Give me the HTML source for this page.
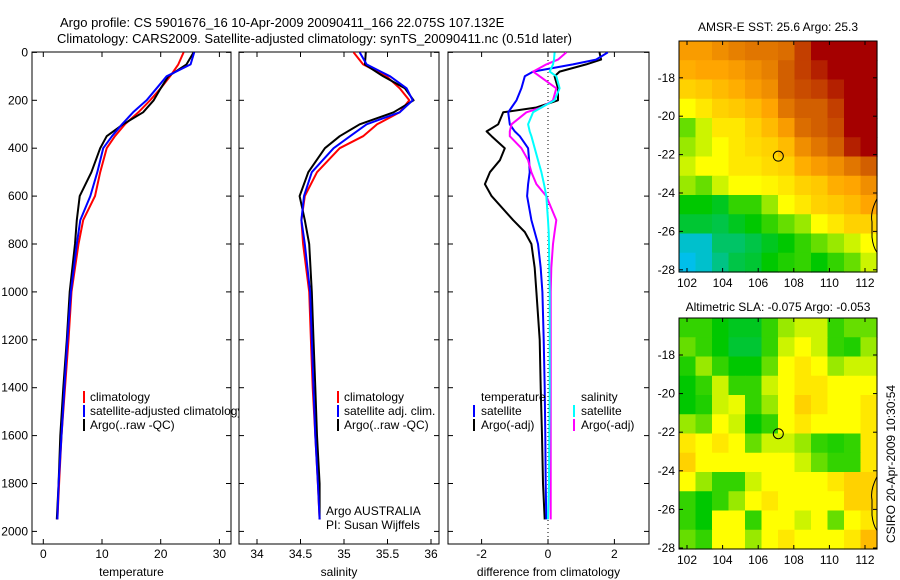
<!DOCTYPE html>
<html><head><meta charset="utf-8"><style>
html,body{margin:0;padding:0;background:#fff;}
svg{display:block;font-family:"Liberation Sans",sans-serif;}
</style></head><body>
<svg id="c" width="900" height="580" viewBox="0 0 900 580" xmlns="http://www.w3.org/2000/svg">
<defs>
<clipPath id="cp1"><rect x="32" y="52" width="207" height="492"/></clipPath>
<clipPath id="cp3"><rect x="448" y="52" width="201" height="492"/></clipPath>
</defs>
<text x="60" y="27" font-size="13">Argo profile: CS 5901676_16 10-Apr-2009 20090411_166 22.075S 107.132E</text>
<text x="57" y="43" font-size="13">Climatology: CARS2009. Satellite-adjusted climatology: synTS_20090411.nc (0.51d later)</text>
<g id="g"></g>
</svg>
<script>
// ---- data ----
const depthTS = [0,50,100,150,200,250,300,350,400,500,600,700,800,1000,1200,1400,1600,1800,1950];
const tempClim = [23.9,23,21.6,20,18.2,16.2,13.9,12.2,10.8,9.7,8.8,6.8,6,4.8,4.3,3.7,3.1,2.7,2.4];
const tempSat = [25.7,25.1,21,19.3,17.6,15.3,13.4,11.7,10.2,9.2,8,6.3,5.7,4.7,4.1,3.6,3.1,2.6,2.4];
const tempArgo = [25.6,24.4,21.3,20,18.8,17,13.6,10.8,9.7,8.2,6.2,5.7,5.4,4.5,4,3.4,2.9,2.6,2.3];
const salClim = [35.11,35.22,35.49,35.64,35.75,35.64,35.38,35.22,34.95,34.69,34.55,34.51,34.53,34.6,34.62,34.64,34.67,34.7,34.72];
const salSat = [35.18,35.26,35.53,35.72,35.79,35.64,35.26,35.07,34.88,34.63,34.54,34.51,34.55,34.61,34.63,34.65,34.67,34.7,34.72];
const salArgo = [35.25,35.24,35.45,35.7,35.8,35.57,35.18,34.95,34.78,34.59,34.49,34.55,34.6,34.63,34.65,34.67,34.69,34.72,34.72];
const depthD = [0,30,50,80,100,150,200,230,250,300,330,350,400,450,500,550,600,700,750,800,900,1000,1200,1400,1600,1800,1950];
const dTempSat = [1.8,1.45,0.75,-0.45,-0.7,-0.8,-0.95,-1.1,-1.2,-1.15,-1.0,-0.85,-0.6,-0.57,-0.55,-0.6,-0.63,-0.5,-0.4,-0.3,-0.22,-0.17,-0.13,-0.1,-0.08,-0.07,-0.05];
const dTempArgo = [1.55,1.6,1.15,0.35,0.2,0.3,0.3,-0.35,-1.35,-1.5,-1.85,-1.7,-1.3,-1.45,-1.75,-1.9,-1.7,-1.05,-0.7,-0.5,-0.4,-0.35,-0.25,-0.22,-0.18,-0.15,-0.1];
const dSalSat = [0.2,0.18,0.15,0.05,0.25,0.35,0.2,-0.2,-0.45,-0.6,-0.55,-0.5,-0.4,-0.3,-0.2,-0.12,-0.05,0,0.02,0.03,0.04,0.05,0.05,0.05,0.04,0.03,0];
const dSalArgo = [0.55,0.3,-0.05,-0.45,-0.25,0.25,0.15,-0.2,-0.65,-1.1,-1.15,-1.15,-0.8,-0.6,-0.5,-0.35,-0.05,0.25,0.2,0.15,0.1,0.08,0.08,0.08,0.08,0.08,0.08];
const depthTicks = [0,200,400,600,800,1000,1200,1400,1600,1800,2000];
const tempTicks = [0,10,20,30];
const salTicks = [34,34.5,35,35.5,36];
const diffTicks = [-2,0,2];
const lonTicks = [102,104,106,108,110,112];
const latTicks = [-18,-20,-22,-24,-26,-28];
const sstGrid = [
[0.72,0.72,0.75,0.78,0.8,0.8,0.82,0.9,1,1,1,1],
[0.68,0.7,0.7,0.72,0.75,0.78,0.85,0.9,0.95,1,1,1],
[0.6,0.62,0.65,0.68,0.72,0.75,0.85,0.88,0.9,0.95,1,1],
[0.5,0.55,0.6,0.62,0.65,0.7,0.8,0.85,0.85,0.9,1,1],
[0.35,0.45,0.55,0.55,0.6,0.65,0.72,0.82,0.85,0.88,1,1],
[0.4,0.45,0.5,0.55,0.58,0.6,0.65,0.75,0.8,0.85,0.95,1],
[0.45,0.5,0.5,0.55,0.55,0.58,0.6,0.68,0.72,0.75,0.8,0.85],
[0.4,0.35,0.45,0.5,0.5,0.52,0.55,0.6,0.62,0.68,0.7,0.75],
[0.25,0.25,0.22,0.3,0.3,0.4,0.5,0.55,0.6,0.62,0.65,0.7],
[0.2,0.2,0.18,0.22,0.25,0.3,0.35,0.4,0.5,0.55,0.6,0.6],
[0.05,0.05,0.15,0.15,0.18,0.22,0.25,0.3,0.35,0.4,0.45,0.5],
[0.02,0.05,0.12,0.18,0.2,0.25,0.28,0.3,0.25,0.3,0.35,0.45]];
const slaGrid = [
[0.3,0.3,0.25,0.22,0.22,0.3,0.4,0.45,0.45,0.3,0.35,0.35],
[0.35,0.3,0.25,0.2,0.2,0.3,0.45,0.5,0.45,0.3,0.28,0.4],
[0.28,0.4,0.3,0.25,0.25,0.35,0.5,0.55,0.5,0.4,0.45,0.45],
[0.25,0.3,0.45,0.3,0.3,0.45,0.5,0.55,0.55,0.5,0.5,0.5],
[0.25,0.28,0.45,0.48,0.3,0.4,0.5,0.6,0.55,0.5,0.5,0.55],
[0.4,0.35,0.5,0.45,0.25,0.3,0.5,0.55,0.5,0.5,0.5,0.55],
[0.55,0.5,0.55,0.5,0.35,0.45,0.45,0.4,0.3,0.28,0.3,0.55],
[0.6,0.5,0.5,0.5,0.5,0.5,0.5,0.45,0.35,0.3,0.3,0.55],
[0.5,0.4,0.3,0.3,0.45,0.5,0.5,0.5,0.5,0.55,0.6,0.6],
[0.3,0.25,0.3,0.4,0.5,0.55,0.5,0.5,0.5,0.5,0.6,0.6],
[0.3,0.25,0.5,0.5,0.3,0.5,0.5,0.45,0.5,0.35,0.5,0.55],
[0.35,0.3,0.5,0.5,0.4,0.5,0.55,0.5,0.5,0.5,0.55,0.65]];
const argoPos = [107.13, -22.08];

const NS="http://www.w3.org/2000/svg";
const G=document.getElementById('g');
function el(tag,attrs,parent,txt){const e=document.createElementNS(NS,tag);for(const k in attrs)e.setAttribute(k,attrs[k]);if(txt!==undefined)e.textContent=txt;(parent||G).appendChild(e);return e;}

const TOP=52, BOT=544;
const yD = d => 52.4 + d*0.2395;
const PT={x0:32,x1:231}, PS={x0:239,x1:439}, PD={x0:448,x1:649};
const xT = t => 43.3 + t*5.87;
const xS = s => 257 + (s-34)*87;
const xDf = v => 548 + v*33.2;

function frame(P,name){
  const r=el('rect',{x:P.x0,y:TOP,width:P.x1-P.x0,height:BOT-TOP,fill:'none',stroke:'#000','stroke-width':1});
  
  
}
function yTicks(P,labels){
  depthTicks.forEach(d=>{
    const y=yD(d);
    el('line',{x1:P.x0,y1:y,x2:P.x0+5,y2:y,stroke:'#000'});
    el('line',{x1:P.x1-5,y1:y,x2:P.x1,y2:y,stroke:'#000'});
    if(labels){const t=el('text',{x:P.x0-4,y:y+4,'font-size':12,'text-anchor':'end'},G,String(d));
      
      }
  });
}
function xTicks(P,ticks,fx,title){
  ticks.forEach(v=>{
    const x=fx(v);
    el('line',{x1:x,y1:BOT,x2:x,y2:BOT-5,stroke:'#000'});
    el('line',{x1:x,y1:TOP,x2:x,y2:TOP+5,stroke:'#000'});
    const t=el('text',{x:x,y:558,'font-size':12,'text-anchor':'middle'},G,String(v));
    
    
  });
  const tt=el('text',{x:(P.x0+P.x1)/2,y:576,'font-size':12,'text-anchor':'middle'},G,title);
  
  
}
function line(xs,ds,fx,color,name,clip){
  const pts=xs.map((v,i)=>fx(v).toFixed(1)+','+yD(ds[i]).toFixed(1)).join(' ');
  const p=el('polyline',{points:pts,fill:'none',stroke:color,'stroke-width':2,'stroke-linejoin':'round','clip-path':clip||''});
  
  
}
function legend(x,y,color,label,name){
  if(color) el('rect',{x:x,y:y-10,width:2,height:12,fill:color});
  const t=el('text',{x:x+7,y:y,'font-size':12,'clip-path':'url(#cp1)'},G,label);
  
  
}
function txt(x,y,s,name,extra){const t=el('text',Object.assign({x:x,y:y,'font-size':12},extra||{}),G,s);return t;}

// Panel 1: temperature
frame(PT,'temperature-panel');
yTicks(PT,true);
xTicks(PT,tempTicks,xT,'temperature');
line(tempClim,depthTS,xT,'#ff0000','temp-climatology-line');
line(tempArgo,depthTS,xT,'#000000','temp-argo-line');
line(tempSat,depthTS,xT,'#0000ff','temp-satellite-line');
legend(83,401,'#ff0000','climatology','legend-climatology');
legend(83,415,'#0000ff','satellite-adjusted climatology','legend-satellite-adjusted');
legend(83,429,'#000000','Argo(..raw -QC)','legend-argo');

// Panel 2: salinity
frame(PS,'salinity-panel');
yTicks(PS,false);
xTicks(PS,salTicks,xS,'salinity');
line(salClim,depthTS,xS,'#ff0000','sal-climatology-line');
line(salArgo,depthTS,xS,'#000000','sal-argo-line');
line(salSat,depthTS,xS,'#0000ff','sal-satellite-line');
el('rect',{x:337,y:391,width:2,height:12,fill:'#ff0000'});
el('rect',{x:337,y:405,width:2,height:12,fill:'#0000ff'});
el('rect',{x:337,y:419,width:2,height:12,fill:'#000'});
txt(344,401,'climatology','sal-legend-climatology');
txt(344,415,'satellite adj. clim.','sal-legend-satellite');
txt(344,429,'Argo(..raw -QC)','sal-legend-argo');
txt(326,515,'Argo AUSTRALIA','argo-australia-label');
txt(326,529,'PI: Susan Wijffels','pi-label');

// Panel 3: differences
frame(PD,'difference-panel');
yTicks(PD,false);
xTicks(PD,diffTicks,xDf,'difference from climatology');
el('line',{x1:xDf(0),y1:TOP,x2:xDf(0),y2:BOT,stroke:'#000','stroke-dasharray':'1,3'});
line(dTempArgo,depthD,xDf,'#000000','diff-temp-argo-line','url(#cp3)');
line(dTempSat,depthD,xDf,'#0000ff','diff-temp-satellite-line','url(#cp3)');
line(dSalArgo,depthD,xDf,'#ff00ff','diff-sal-argo-line','url(#cp3)');
line(dSalSat,depthD,xDf,'#00ffff','diff-sal-satellite-line','url(#cp3)');
txt(481,401,'temperature','diff-legend-temperature-header');
el('rect',{x:473,y:405,width:2,height:12,fill:'#0000ff'});
el('rect',{x:473,y:419,width:2,height:12,fill:'#000'});
txt(481,415,'satellite','diff-legend-temp-satellite');
txt(481,429,'Argo(-adj)','diff-legend-temp-argo');
txt(581,401,'salinity','diff-legend-salinity-header');
el('rect',{x:573,y:405,width:2,height:12,fill:'#00ffff'});
el('rect',{x:573,y:419,width:2,height:12,fill:'#ff00ff'});
txt(581,415,'satellite','diff-legend-sal-satellite');
txt(581,429,'Argo(-adj)','diff-legend-sal-argo');

// Maps
function cmap(v){
  const stops=[[0,[0,190,255]],[0.25,[0,200,0]],[0.5,[255,255,0]],[0.7,[255,165,0]],[0.85,[210,95,0]],[1,[165,0,0]]];
  for(let i=1;i<stops.length;i++){if(v<=stops[i][0]){const a=stops[i-1],b=stops[i];const f=(v-a[0])/(b[0]-a[0]);
    return 'rgb('+a[1].map((c,k)=>Math.round(c+(b[1][k]-c)*f)).join(',')+')';}}
  return 'rgb(165,0,0)';
}
function map(M,grid,title,name){
  const lonX=l=>687+(l-102)*17.8;
  const latY=la=>M.y18+(-18-la)*M.dy;
  const x0=679,x1=877;
  const rows=grid.length,cols=grid[0].length;
  const cw=(x1-x0)/cols,ch=(M.y1-M.y0)/rows;
  grid.forEach((row,r)=>row.forEach((v,c)=>{
    const cell=el('rect',{x:(x0+c*cw).toFixed(2),y:(M.y0+r*ch).toFixed(2),width:(cw+0.6).toFixed(2),height:(ch+0.6).toFixed(2),fill:cmap(v)});
    
    
  }));
  const f=el('rect',{x:x0,y:M.y0,width:x1-x0,height:M.y1-M.y0,fill:'none',stroke:'#000'});
  
  
  lonTicks.forEach(l=>{const x=lonX(l);
    el('line',{x1:x,y1:M.y1,x2:x,y2:M.y1-4,stroke:'#000'});
    el('line',{x1:x,y1:M.y0,x2:x,y2:M.y0+4,stroke:'#000'});
    txt(x,M.y1+15,String(l),'lon-tick-label',{'text-anchor':'middle'});});
  latTicks.forEach(la=>{const y=latY(la);
    el('line',{x1:x0,y1:y,x2:x0+4,y2:y,stroke:'#000'});
    el('line',{x1:x1-4,y1:y,x2:x1,y2:y,stroke:'#000'});
    txt(x0-4,y+4,String(la),'lat-tick-label',{'text-anchor':'end'});});
  const c=el('circle',{cx:lonX(argoPos[0]),cy:latY(argoPos[1]),r:5,fill:'none',stroke:'#000'});
  
  
  el('path',{d:`M877 ${latY(-24.3)} Q 870 ${latY(-25)} 872 ${latY(-25.5)} L 872 ${latY(-26.3)} Q 873 ${latY(-26.8)} 877 ${latY(-27.1)}`,fill:'none',stroke:'#000'});
  txt(778,M.ty,title,name+'-title',{'text-anchor':'middle'});
}
map({y0:41,y1:272,y18:77.8,dy:19.2,ty:31},sstGrid,'AMSR-E SST: 25.6 Argo: 25.3','sst-map');
map({y0:318,y1:549,y18:355,dy:19.3,ty:311},slaGrid,'Altimetric SLA: -0.075 Argo: -0.053','sla-map');
txt(0,0,'CSIRO 20-Apr-2009 10:30:54','csiro-timestamp',{transform:'translate(895,543) rotate(-90)'});
</script>
</body></html>
